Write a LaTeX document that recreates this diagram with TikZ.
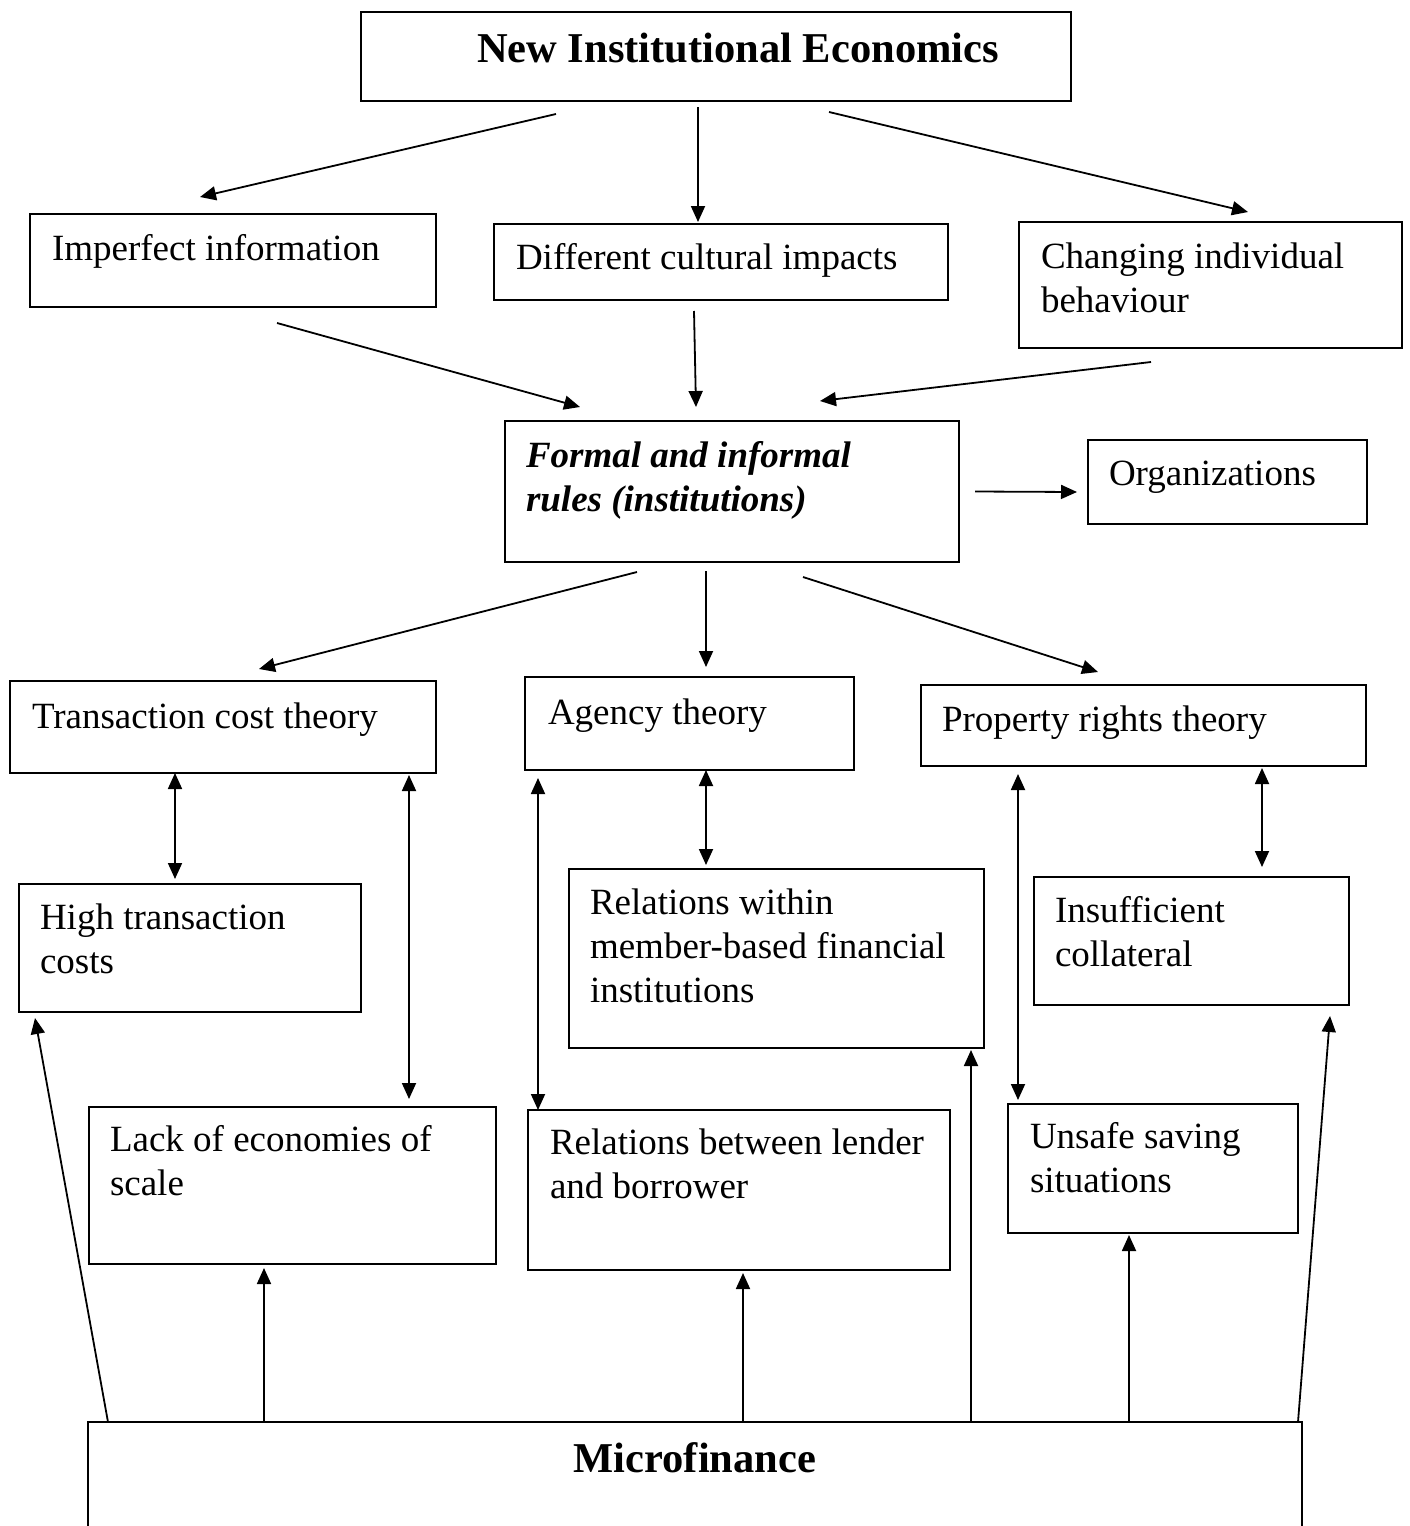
\documentclass[tikz,border=0pt]{standalone}
\usepackage{fontspec}
\setmainfont{Liberation Serif}
\usetikzlibrary{calc,arrows.meta}
\newcommand\bsz{\fontsize{37}{44}\selectfont}
\newcommand\tsz{\fontsize{42.5}{50}\selectfont}
\begin{document}
\begin{tikzpicture}[x=1pt,y=-1pt,
  bx/.style={draw,line width=2pt,inner sep=0pt,outer sep=0pt,anchor=north west},
  txt/.style={anchor=base west,inner sep=0pt,outer sep=0pt,align=left,font=\bsz},
  ttl/.style={anchor=base,inner sep=0pt,outer sep=0pt,font=\tsz\bfseries},
  arr/.style={line width=1.8pt,-{Triangle[length=16pt,width=14pt]}},
  darr/.style={line width=1.8pt,{Triangle[length=16pt,width=14pt]}-{Triangle[length=16pt,width=14pt]}}]
\useasboundingbox (0,0) rectangle (1409,1526);
% boxes
\node[bx,minimum width=710,minimum height=89] (nie) at (361,12) {};
\node[bx,minimum width=406,minimum height=93] (imp) at (30,214) {};
\node[bx,minimum width=454,minimum height=76] (dif) at (494,224) {};
\node[bx,minimum width=383,minimum height=126] (chg) at (1019,222) {};
\node[bx,minimum width=454,minimum height=141] (frm) at (505,421) {};
\node[bx,minimum width=279,minimum height=84] (org) at (1088,440) {};
\node[bx,minimum width=426,minimum height=92] (tct) at (10,681) {};
\node[bx,minimum width=329,minimum height=93] (agt) at (525,677) {};
\node[bx,minimum width=445,minimum height=81] (prt) at (921,685) {};
\node[bx,minimum width=342,minimum height=128] (htc) at (19,884) {};
\node[bx,minimum width=415,minimum height=179] (rwm) at (569,869) {};
\node[bx,minimum width=315,minimum height=128] (ico) at (1034,877) {};
\node[bx,minimum width=407,minimum height=157] (les) at (89,1107) {};
\node[bx,minimum width=422,minimum height=160] (rlb) at (528,1110) {};
\node[bx,minimum width=290,minimum height=129] (uss) at (1008,1104) {};
\node[anchor=north west,inner sep=0pt,outer sep=0pt,minimum width=1214,minimum height=110] (mic) at (88,1422) {};
\draw[line width=2pt] (mic.south west) -- (mic.north west) -- (mic.north east) -- (mic.south east);
% texts (base = baseline of last line)
\node[ttl] (nieT) at ($(nie.north west)+(377,50)$) {New Institutional Economics};
\node[txt] (impT) at ($(imp.north west)+(22,46)$) {Imperfect information};
\node[txt] (difT) at ($(dif.north west)+(22,45)$) {Different cultural impacts};
\node[txt] (chgT) at ($(chg.north west)+(22,90)$) {Changing individual\\behaviour};
\node[txt,font=\bsz\bfseries\itshape] (frmT) at ($(frm.north west)+(21,90)$) {Formal and informal\\rules (institutions)};
\node[txt] (orgT) at ($(org.north west)+(21,45)$) {Organizations};
\node[txt] (tctT) at ($(tct.north west)+(22,47)$) {Transaction cost theory};
\node[txt] (agtT) at ($(agt.north west)+(23,47)$) {Agency theory};
\node[txt] (prtT) at ($(prt.north west)+(21,46)$) {Property rights theory};
\node[txt] (htcT) at ($(htc.north west)+(21,89)$) {High transaction\\costs};
\node[txt] (rwmT) at ($(rwm.north west)+(21,133)$) {Relations within\\member-based financial\\institutions};
\node[txt] (icoT) at ($(ico.north west)+(21,89)$) {Insufficient\\collateral};
\node[txt] (lesT) at ($(les.north west)+(21,88)$) {Lack of economies of\\scale};
\node[txt] (rlbT) at ($(rlb.north west)+(22,88)$) {Relations between lender\\and borrower};
\node[txt] (ussT) at ($(uss.north west)+(22,88)$) {Unsafe saving\\situations};
\node[ttl] (micT) at ($(mic.north west)+(607,50)$) {Microfinance};
% arrows
\draw[arr] ($(nie.south west)+(195,13)$) -- ($(imp.north west)+(170,-17)$);
\draw[arr] ($(nie.south west)+(337,6)$) -- ($(dif.north west)+(204,-2)$);
\draw[arr] ($(nie.south west)+(468,11)$) -- ($(chg.north west)+(229,-10)$);
\draw[arr] ($(imp.south west)+(247,16)$) -- ($(frm.north west)+(75,-14)$);
\draw[arr] ($(dif.south west)+(200,11)$) -- ($(frm.north west)+(191,-14)$);
\draw[arr] ($(chg.south west)+(132,14)$) -- ($(frm.north west)+(315,-20)$);
\draw[arr] ($(frm.east)+(16,0)$) -- ($(org.west)+(-11,10)$);
\draw[arr] ($(frm.south west)+(132,10)$) -- ($(tct.north west)+(249,-12)$);
\draw[arr] ($(frm.south west)+(201,9)$) -- ($(agt.north west)+(181,-10)$);
\draw[arr] ($(frm.south west)+(298,15)$) -- ($(prt.north west)+(177,-13)$);
\draw[darr] ($(tct.south west)+(165,0)$) -- ($(htc.north west)+(156,-5)$);
\draw[darr] ($(tct.south west)+(399,2)$) -- ($(les.north west)+(320,-8)$);
\draw[darr] ($(agt.south west)+(13,8)$) -- ($(rlb.north west)+(10,0)$);
\draw[darr] ($(agt.south west)+(181,0)$) -- ($(rwm.north west)+(137,-4)$);
\draw[darr] ($(prt.south west)+(97,8)$) -- ($(uss.north west)+(10,-4)$);
\draw[darr] ($(prt.south west)+(341,2)$) -- ($(ico.north west)+(228,-10)$);
\draw[arr] ($(mic.north west)+(20,0)$) -- ($(htc.south west)+(16,6)$);
\draw[arr] ($(mic.north west)+(176,0)$) -- ($(les.south west)+(175,4)$);
\draw[arr] ($(mic.north west)+(655,0)$) -- ($(rlb.south west)+(215,3)$);
\draw[arr] ($(mic.north west)+(883,0)$) -- ($(rwm.south west)+(402,2)$);
\draw[arr] ($(mic.north west)+(1041,0)$) -- ($(uss.south west)+(121,2)$);
\draw[arr] ($(mic.north west)+(1210,0)$) -- ($(ico.south west)+(296,11)$);
\end{tikzpicture}
\end{document}
